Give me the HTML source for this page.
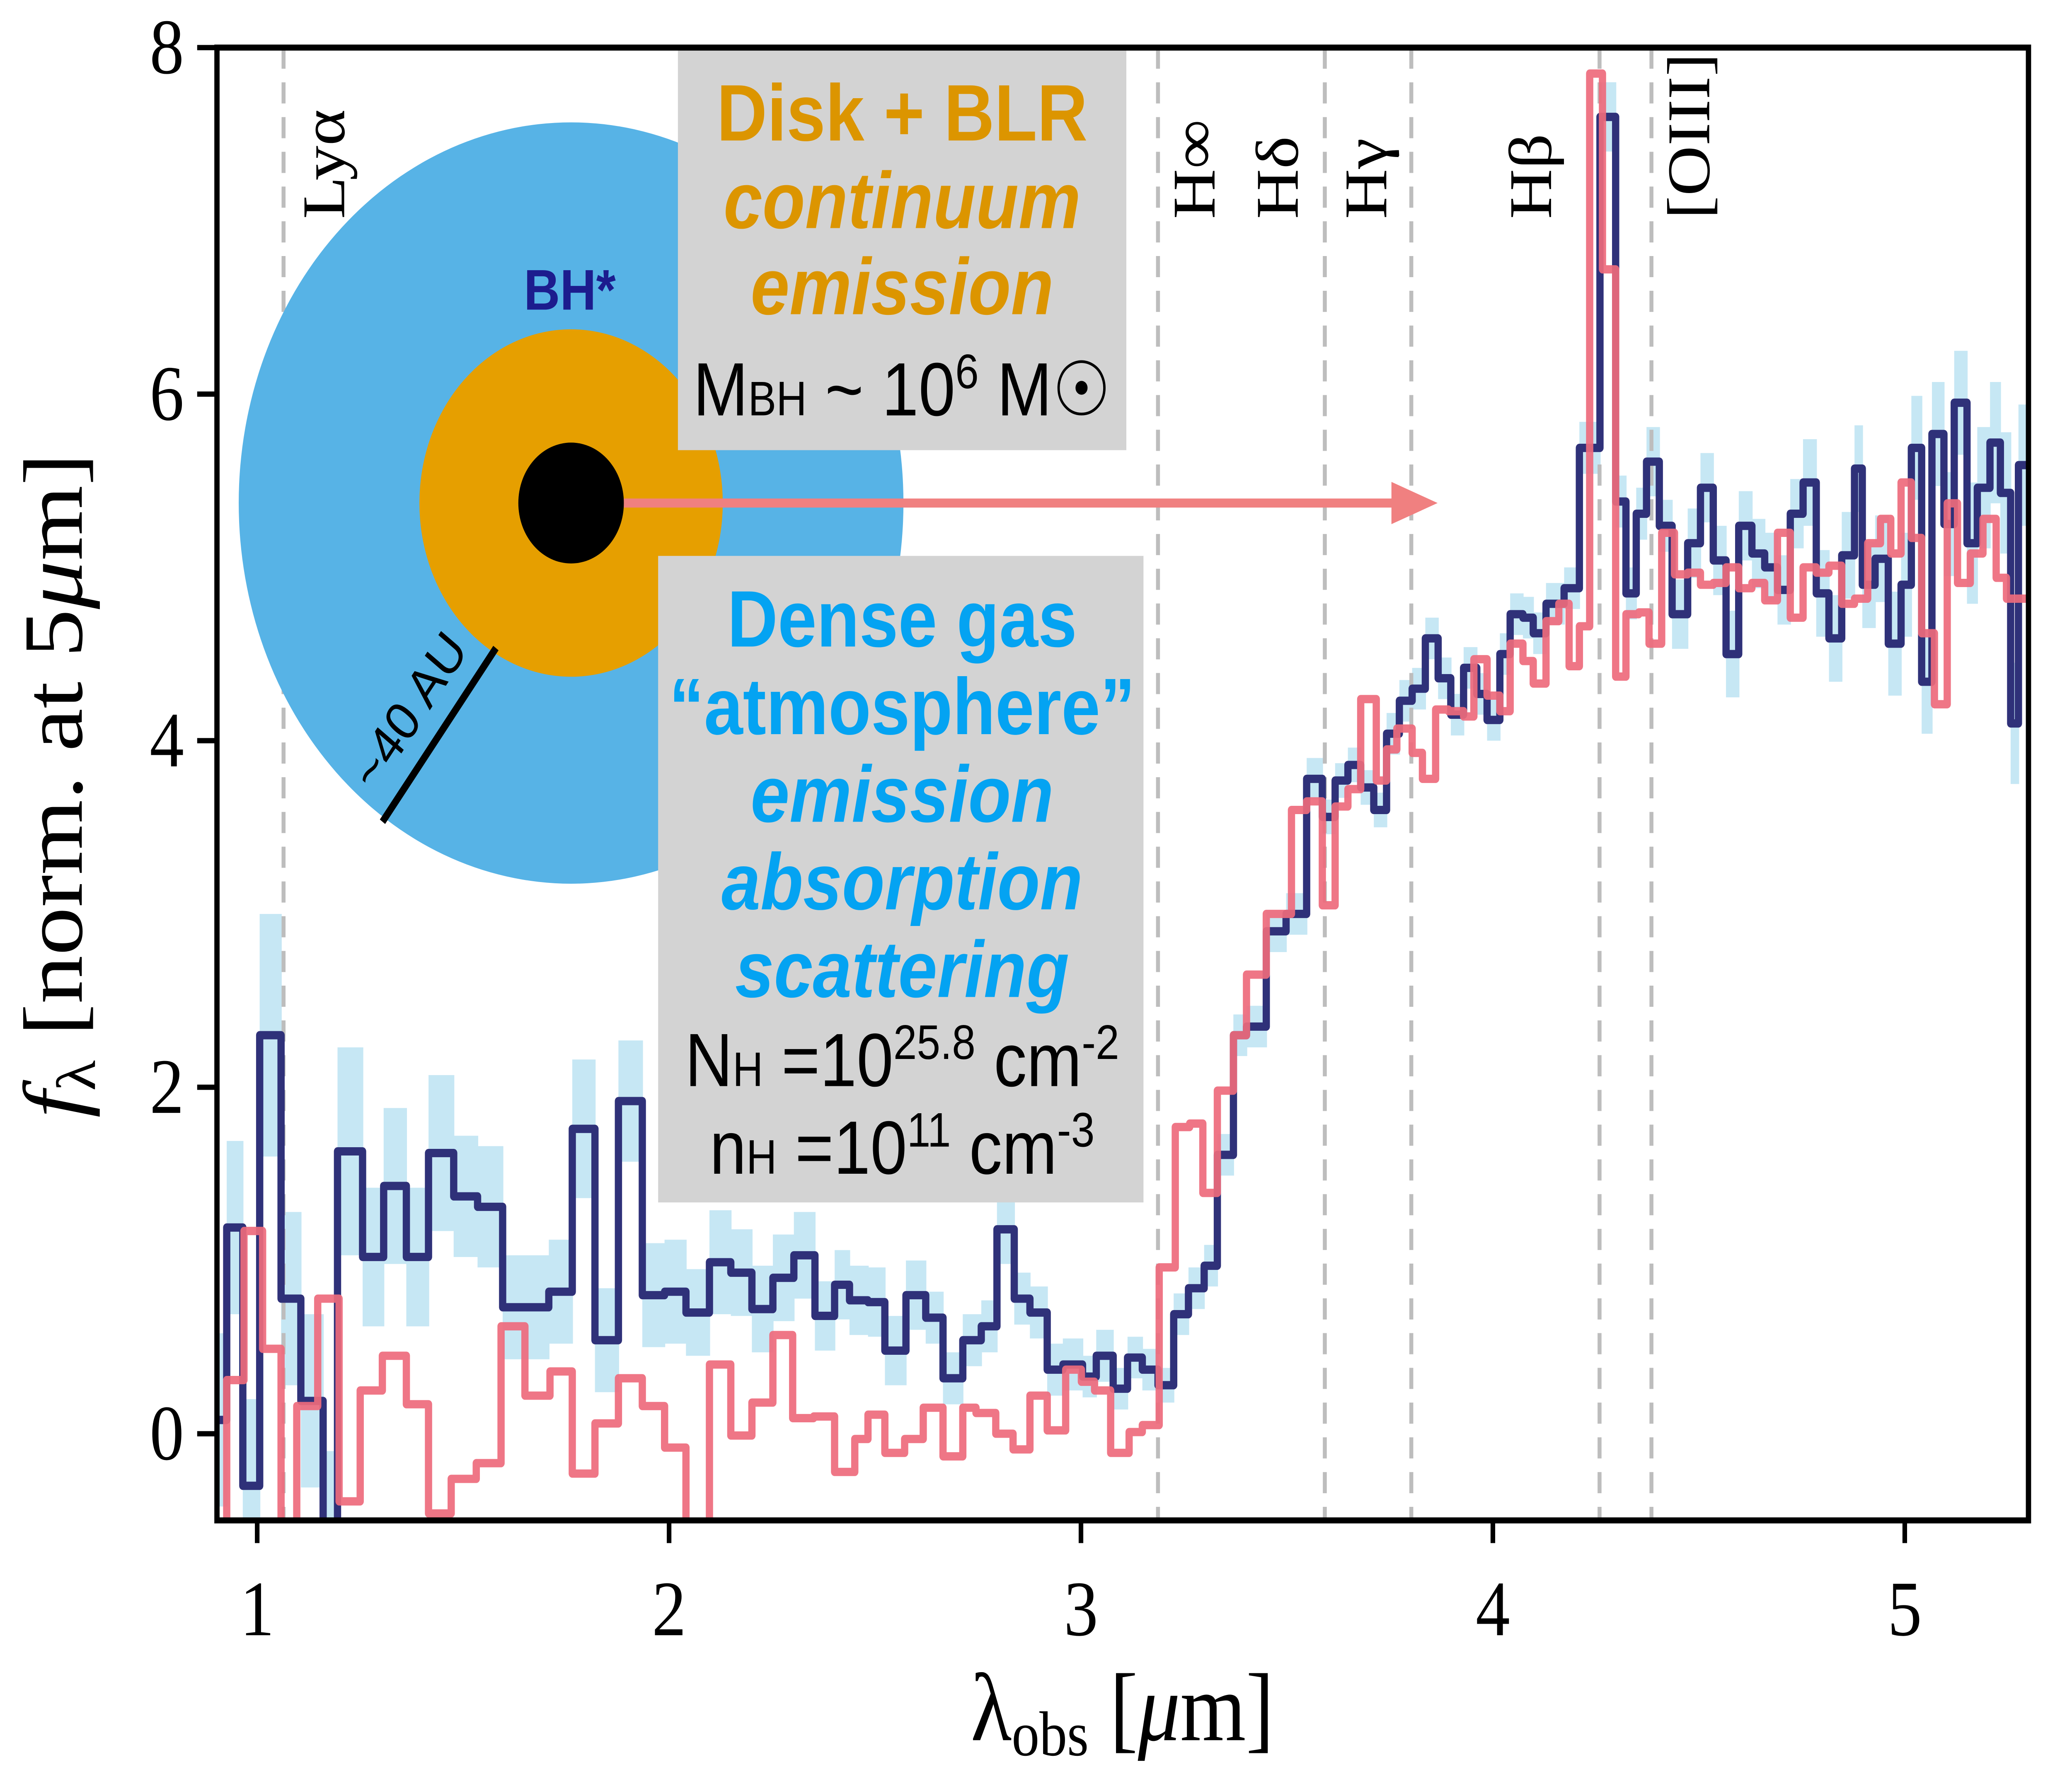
<!DOCTYPE html>
<html><head><meta charset="utf-8">
<style>
html,body{margin:0;padding:0;background:#fff;width:100%;height:100%;overflow:hidden;}
svg{display:block;position:absolute;left:0;top:0;width:100vw;height:100vh;}
.serif{font-family:"Liberation Serif","DejaVu Serif",serif;}
.sans{font-family:"Liberation Sans","DejaVu Sans",sans-serif;}
</style></head>
<body>
<svg id="chart" viewBox="0 0 1571 1181" preserveAspectRatio="none" xmlns="http://www.w3.org/2000/svg">
<defs><clipPath id="plotclip"><rect x="164.5" y="31.5" width="1373.5" height="975"/></clipPath></defs>
<g id="bands" clip-path="url(#plotclip)"></g>
<g id="vlines"></g>
<g id="series" clip-path="url(#plotclip)"></g>
<g id="annot"></g>
<g id="axes"></g>
</svg>
<script>
const blueEdges=[0.902,0.926,0.965,1.006,1.058,1.106,1.160,1.195,1.256,1.307,1.362,1.416,1.477,1.535,1.596,1.708,1.765,1.820,1.877,1.935,1.989,2.041,2.098,2.150,2.201,2.252,2.303,2.354,2.402,2.438,2.483,2.524,2.575,2.623,2.665,2.713,2.758,2.796,2.838,2.876,2.918,2.956,3.004,3.037,3.078,3.113,3.149,3.187,3.225,3.261,3.299,3.331,3.370,3.402,3.450,3.498,3.548,3.586,3.617,3.648,3.679,3.711,3.742,3.773,3.804,3.836,3.867,3.898,3.929,3.961,3.986,4.017,4.042,4.073,4.098,4.129,4.173,4.210,4.260,4.298,4.323,4.348,4.373,4.404,4.435,4.473,4.504,4.535,4.566,4.597,4.629,4.660,4.691,4.722,4.753,4.785,4.816,4.847,4.878,4.897,4.928,4.960,4.991,5.016,5.041,5.066,5.095,5.120,5.151,5.176,5.207,5.232,5.257,5.276,5.300];
const blueFlux=[0.08,1.19,-0.3,2.3,0.78,0.19,-0.6,1.63,1.02,1.43,1.02,1.62,1.37,1.31,0.73,0.82,1.76,0.54,1.92,0.80,0.82,0.70,0.99,0.93,0.72,0.90,1.03,0.68,0.86,0.77,0.76,0.48,0.80,0.67,0.32,0.54,0.62,1.18,0.78,0.70,0.37,0.40,0.33,0.45,0.26,0.44,0.37,0.28,0.69,0.84,0.97,1.61,2.30,2.35,2.90,3.00,3.78,3.56,3.77,3.86,3.73,3.60,4.04,4.23,4.30,4.59,4.36,4.15,4.42,4.27,4.12,4.50,4.73,4.71,4.62,4.79,4.88,5.69,7.60,5.38,4.85,5.31,5.61,5.24,4.73,5.14,5.46,5.04,4.50,5.24,5.08,5.00,4.87,5.31,5.49,4.85,4.59,5.07,5.57,4.90,5.05,4.56,4.90,5.69,4.34,5.77,5.25,5.95,5.14,5.46,5.72,5.43,4.10,5.59];
const blueErr=[0.5,0.5,0.5,0.7,0.5,0.5,0.5,0.6,0.4,0.45,0.4,0.45,0.35,0.35,0.3,0.3,0.4,0.3,0.35,0.3,0.3,0.25,0.3,0.25,0.25,0.25,0.25,0.2,0.2,0.2,0.2,0.2,0.2,0.15,0.15,0.15,0.15,0.2,0.15,0.15,0.15,0.15,0.12,0.15,0.12,0.12,0.12,0.1,0.12,0.12,0.12,0.12,0.12,0.12,0.12,0.12,0.12,0.1,0.1,0.1,0.1,0.1,0.12,0.12,0.12,0.12,0.12,0.12,0.12,0.12,0.12,0.12,0.12,0.12,0.12,0.12,0.12,0.15,0.2,0.15,0.15,0.15,0.2,0.15,0.2,0.2,0.2,0.2,0.25,0.2,0.2,0.2,0.2,0.2,0.25,0.25,0.25,0.25,0.25,0.25,0.25,0.3,0.3,0.3,0.3,0.3,0.3,0.3,0.35,0.35,0.35,0.35,0.35,0.35];
const redEdges=[0.902,0.926,0.968,1.013,1.058,1.096,1.147,1.199,1.250,1.304,1.362,1.416,1.471,1.532,1.592,1.650,1.711,1.765,1.820,1.877,1.935,1.989,2.041,2.098,2.150,2.201,2.252,2.300,2.351,2.402,2.451,2.483,2.524,2.572,2.617,2.665,2.713,2.745,2.793,2.835,2.876,2.918,2.963,3.001,3.033,3.072,3.117,3.149,3.190,3.229,3.264,3.296,3.331,3.370,3.402,3.450,3.511,3.548,3.586,3.617,3.648,3.679,3.717,3.742,3.767,3.804,3.829,3.861,3.892,3.929,3.954,3.986,4.017,4.042,4.073,4.098,4.129,4.160,4.185,4.210,4.235,4.266,4.298,4.323,4.354,4.379,4.410,4.441,4.473,4.504,4.535,4.566,4.597,4.629,4.660,4.691,4.722,4.753,4.785,4.816,4.847,4.878,4.910,4.941,4.966,4.991,5.016,5.041,5.072,5.103,5.128,5.159,5.190,5.222,5.247,5.300];
const redFlux=[-0.6,0.31,1.17,0.49,-0.6,0.16,0.78,-0.39,0.25,0.45,0.17,-0.46,-0.26,-0.17,0.62,0.22,0.36,-0.23,0.06,0.32,0.16,-0.08,-0.6,0.40,-0.01,0.18,0.57,0.09,0.10,-0.22,-0.03,0.11,-0.11,-0.03,0.15,-0.13,0.15,0.12,0.00,-0.09,0.22,0.02,0.37,0.30,0.25,-0.11,0.01,0.05,0.96,1.77,1.79,1.39,1.98,2.30,2.65,3.00,3.60,3.65,3.05,3.62,3.72,4.24,3.77,3.95,4.07,3.93,3.78,4.18,4.17,4.14,4.47,4.26,4.17,4.56,4.46,4.33,4.69,4.79,4.43,4.66,7.85,6.72,4.37,4.73,4.74,4.56,5.20,4.96,4.97,4.90,4.91,5.00,4.88,4.91,4.81,5.20,4.71,5.00,4.97,5.01,4.79,4.82,5.14,5.28,5.08,5.49,5.17,4.62,4.21,5.37,4.91,5.08,5.28,4.94,4.82];
const lineWaves=[1.064,3.187,3.592,3.802,4.259,4.385];
const lineNames=["Lyα","H∞","Hδ","Hγ","Hβ","[OIII]"];
const lineLabelWaves=[1.160,3.273,3.475,3.690,4.090,4.474];
const xTicks=[1,2,3,4,5];
const yTicks=[0,2,4,6,8];

const L=164.5,R=1538,T=31.5,B=1006.5;
function X(v){return 195+(v-1)*312.3;}
function Y(v){return T+(8-v)*(B-T)/8.5;}
const NS="http://www.w3.org/2000/svg";
function mk(tag,attrs,parent){const e=document.createElementNS(NS,tag);for(const k in attrs)e.setAttribute(k,attrs[k]);parent.appendChild(e);return e;}

const bands=document.getElementById('bands');
for(let i=0;i<blueFlux.length&&i+1<blueEdges.length;i++){
  const x0=X(blueEdges[i]),x1=X(blueEdges[i+1]);
  const r=mk('rect',{x:x0,y:Y(blueFlux[i]+blueErr[i]),width:x1-x0+0.5,height:Y(blueFlux[i]-blueErr[i])-Y(blueFlux[i]+blueErr[i]),fill:'#c6e7f4'},bands);
  
  
}
const vl=document.getElementById('vlines');
lineWaves.forEach((w,i)=>{
  const l=mk('line',{x1:X(w),x2:X(w),y1:T,y2:B,stroke:'#bdbdbd','stroke-width':3,'stroke-dasharray':'14,9'},vl);
  
  
  const lx=X(lineLabelWaves[i]);
  const t=mk('text',{x:0,y:0,transform:`translate(${lx+16},145) rotate(-90)`,'text-anchor':'start','font-size':46,class:'serif',fill:'#000'},vl);
  t.textContent=lineNames[i];
  
  
});
function stepPath(edges,vals){
  let d='';
  for(let i=0;i<vals.length&&i+1<edges.length;i++){
    const x0=X(edges[i]),x1=X(edges[i+1]),y=Y(vals[i]);
    d+=(i===0?'M':'L')+x0.toFixed(1)+','+y.toFixed(1)+'L'+x1.toFixed(1)+','+y.toFixed(1);
  }
  return d;
}
const ser=document.getElementById('series');
const bp=mk('path',{d:stepPath(blueEdges,blueFlux),fill:'none',stroke:'#2f3179','stroke-width':5.5,'stroke-linejoin':'round'},ser);


const rp=mk('path',{d:stepPath(redEdges,redFlux),fill:'none',stroke:'#ee6a7c','stroke-width':5.5,'stroke-linejoin':'round','stroke-opacity':0.92},ser);



const an=document.getElementById('annot');
an.innerHTML=`
<g>
<circle cx="433" cy="333" r="252" fill="#57b3e6"/>
<circle cx="433" cy="333" r="115" fill="#e69f00"/>
<circle cx="433" cy="333" r="40" fill="#000"/>
<line x1="376" y1="429" x2="290" y2="544" stroke="#000" stroke-width="5"/>
<text x="0" y="0" transform="translate(320,478) rotate(-53)" text-anchor="middle" font-size="36" class="sans">~40 AU</text>
<text x="432" y="205" text-anchor="middle" font-size="38" font-weight="bold" fill="#1c1c8e" class="sans">BH*</text>
</g>
<g>
<line x1="473" y1="333" x2="1060" y2="333" stroke="#f08080" stroke-width="6"/>
<polygon points="1055,319 1090,333 1055,347" fill="#f08080"/>
</g>
<g>
<rect x="514" y="32" width="340" height="266" fill="#d3d3d3"/>
<text x="684" y="93" text-anchor="middle" font-size="53" font-weight="bold" fill="#dc9500" class="sans">Disk + BLR</text>
<text x="684" y="151" text-anchor="middle" font-size="53" font-weight="bold" font-style="italic" fill="#dc9500" class="sans">continuum</text>
<text x="684" y="208" text-anchor="middle" font-size="53" font-weight="bold" font-style="italic" fill="#dc9500" class="sans">emission</text>
<text x="684" y="275" text-anchor="middle" font-size="50" fill="#000" class="sans">M<tspan font-size="32">BH</tspan> ~ 10<tspan font-size="32" dy="-18">6</tspan><tspan dy="18"> M</tspan>☉</text>
</g>
<g>
<rect x="499" y="368" width="368" height="428" fill="#d3d3d3"/>
<text x="684" y="428" text-anchor="middle" font-size="53" font-weight="bold" fill="#04a3f2" class="sans">Dense gas</text>
<text x="684" y="486" text-anchor="middle" font-size="53" font-weight="bold" fill="#04a3f2" class="sans">“atmosphere”</text>
<text x="684" y="544" text-anchor="middle" font-size="53" font-weight="bold" font-style="italic" fill="#04a3f2" class="sans">emission</text>
<text x="684" y="602" text-anchor="middle" font-size="53" font-weight="bold" font-style="italic" fill="#04a3f2" class="sans">absorption</text>
<text x="684" y="660" text-anchor="middle" font-size="53" font-weight="bold" font-style="italic" fill="#04a3f2" class="sans">scattering</text>
<text x="684" y="719" text-anchor="middle" font-size="50" fill="#000" class="sans">N<tspan font-size="32">H</tspan> =10<tspan font-size="32" dy="-18">25.8</tspan><tspan dy="18"> cm</tspan><tspan font-size="32" dy="-18">-2</tspan></text>
<text x="684" y="777" text-anchor="middle" font-size="50" fill="#000" class="sans">n<tspan font-size="32">H</tspan> =10<tspan font-size="32" dy="-18">11</tspan><tspan dy="18"> cm</tspan><tspan font-size="32" dy="-18">-3</tspan></text>
</g>`;

const ax=document.getElementById('axes');
const fr=mk('rect',{x:L,y:T,width:R-L,height:B-T,fill:'none',stroke:'#000','stroke-width':4},ax);


xTicks.forEach(v=>{
  mk('line',{x1:X(v),x2:X(v),y1:B,y2:B+15,stroke:'#000','stroke-width':3.5},ax);
  const t=mk('text',{x:X(v),y:B+76,'text-anchor':'middle','font-size':52,class:'serif'},ax);
  t.textContent=v;
  
  
});
yTicks.forEach(v=>{
  mk('line',{x1:L-15,x2:L,y1:Y(v),y2:Y(v),stroke:'#000','stroke-width':3.5},ax);
  const t=mk('text',{x:L-25,y:Y(v)+17,'text-anchor':'end','font-size':52,class:'serif'},ax);
  t.textContent=v;
  
  
});
const xt=mk('text',{x:851,y:1152,'text-anchor':'middle','font-size':64,class:'serif'},ax);
xt.innerHTML='λ<tspan font-size="42" dy="10">obs</tspan><tspan dy="-10"> [</tspan><tspan font-style="italic">μ</tspan>m]';


const yt=mk('text',{x:0,y:0,transform:'translate(62,520) rotate(-90)','text-anchor':'middle','font-size':64,class:'serif'},ax);
yt.innerHTML='<tspan font-style="italic">f</tspan><tspan font-size="42" dy="10">λ</tspan><tspan dy="-10"> [norm. at 5</tspan><tspan font-style="italic">μ</tspan>m]';


</script>
</body></html>
